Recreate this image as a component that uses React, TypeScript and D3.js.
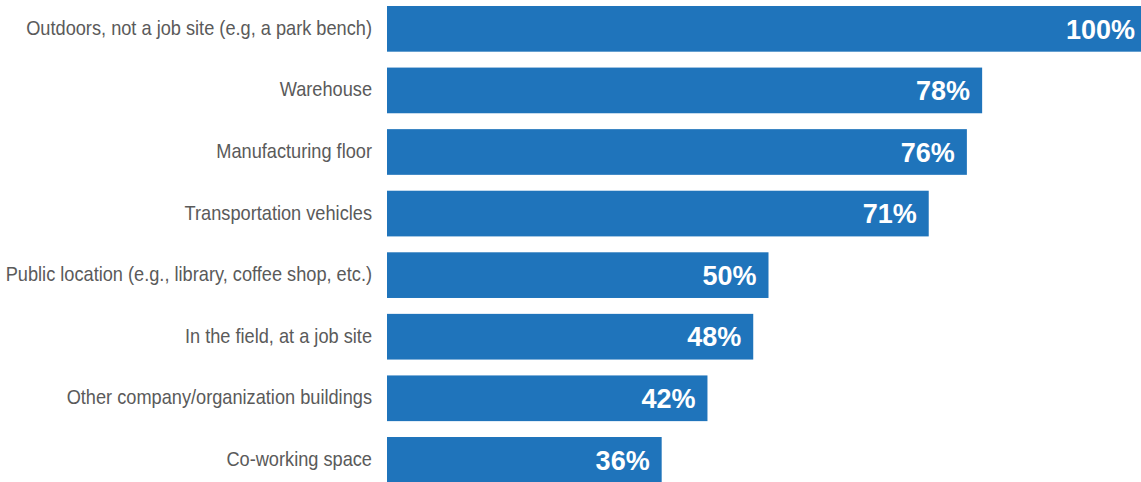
import React from "react";
import * as d3 from "d3";

const categories: string[] = [
  "Outdoors, not a job site (e.g, a park bench)",
  "Warehouse",
  "Manufacturing floor",
  "Transportation vehicles",
  "Public location (e.g., library, coffee shop, etc.)",
  "In the field, at a job site",
  "Other company/organization buildings",
  "Co-working space",
];
const values: number[] = [100, 78, 76, 71, 50, 48, 42, 36];

const W = 1141;
const H = 482;

export default function App() {
  const x = d3.scaleLinear().domain([0, 100]).range([387, 1150]);
  const y = d3
    .scaleBand<string>()
    .domain(categories)
    .range([6, 482.7])
    .paddingInner(0.258)
    .paddingOuter(0);
  return (
    <svg
      width={W}
      height={H}
      style={{ position: "absolute", left: 0, top: 0, display: "block" }}
    >
      <rect width={W} height={H} fill="#ffffff" />
      {categories.map((c, i) => {
        const yy = y(c)!;
        const bw = y.bandwidth();
        const xe = x(values[i]);
        return (
          <g key={c}>
            <rect
              x={x(0)}
              y={yy}
              width={xe - x(0)}
              height={bw}
              fill="#1f74bb"
            />
            <text
              transform={`translate(${x(0) - 15},${yy + bw / 2}) scale(0.91,1)`}
              dy="0.3em"
              textAnchor="end"
              fill="#5a5a5a"
              style={{
                fontFamily: "'Liberation Sans', Arial, sans-serif",
                fontSize: 20,
              }}
            >
              {c}
            </text>
            <text
              x={Math.min(xe - 12, W - 6)}
              y={yy + bw / 2}
              dy="0.36em"
              textAnchor="end"
              fill="#ffffff"
              style={{
                fontFamily: "'Liberation Sans', Arial, sans-serif",
                fontSize: 27,
                fontWeight: 700,
              }}
            >
              {values[i]}%
            </text>
          </g>
        );
      })}
    </svg>
  );
}
